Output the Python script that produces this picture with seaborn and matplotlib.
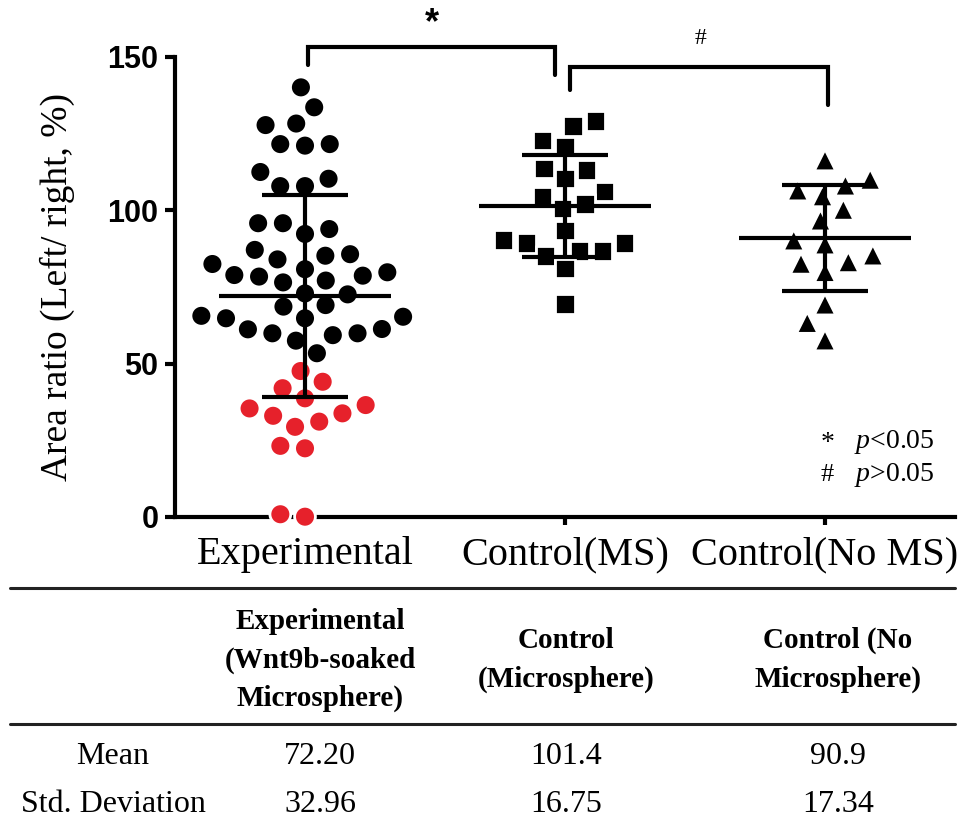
import matplotlib
matplotlib.use("Agg")
import matplotlib.pyplot as plt
from matplotlib.lines import Line2D
import numpy as np
import pandas as pd
import seaborn as sns

# ---------------- data ----------------
groups = ["Experimental", "Control(MS)", "Control(No MS)"]

experimental = [140.1, 133.6, 128.3, 127.8, 121.6, 121.1, 121.6, 112.5, 110.3,
                107.9, 107.9, 95.8, 92.3, 93.9, 95.8, 87.1, 85.2, 82.5, 80.8,
                84.0, 85.7, 78.9, 78.4, 76.5, 77.1, 78.7, 79.8, 72.6, 72.9,
                69.1, 68.6, 65.6, 64.8, 64.8, 65.3, 61.3, 59.9, 59.3, 57.5,
                59.9, 61.2, 53.4,
                47.6, 44.1, 42.0, 38.7, 36.5, 33.8, 35.4, 31.1, 33.0, 29.4,
                23.2, 22.4, 0.1, 0.9]
control_ms = [129.2, 127.5, 122.7, 120.7, 113.6, 113.1, 110.4, 106.1, 104.4,
              102.1, 100.6, 93.4, 90.3, 89.4, 89.4, 86.8, 85.1, 86.8, 81.1, 69.4]
control_no_ms = [116.4, 110.1, 108.2, 106.6, 104.7, 100.3, 96.8, 90.3, 89.0,
                 85.4, 83.2, 82.7, 80.0, 69.4, 63.4, 57.7]

highlight_below = 50  # experimental values below this are drawn red

table_headers = ["Experimental\n(Wnt9b-soaked\nMicrosphere)",
                 "Control\n(Microsphere)",
                 "Control (No\nMicrosphere)"]
row_labels = ["Mean", "Std. Deviation"]
means = [72.20, 101.4, 90.9]
sds = [32.96, 16.75, 17.34]
mean_text = ["72.20", "101.4", "90.9"]
sd_text = ["32.96", "16.75", "17.34"]

y_ticks = [0, 50, 100, 150]

# ---------------- frame ----------------
rows = []
for g, vals in zip(groups, [experimental, control_ms, control_no_ms]):
    for v in vals:
        tone = "red" if (g == groups[0] and v < highlight_below) else "black"
        rows.append({"group": g, "value": v, "tone": tone})
df = pd.DataFrame(rows)

sns.set_style("ticks")
plt.rcParams["font.family"] = ["Liberation Serif", "DejaVu Serif"]
plt.rcParams["mathtext.fontset"] = "custom"
plt.rcParams["mathtext.rm"] = "Liberation Serif"
plt.rcParams["mathtext.it"] = "Liberation Serif:italic"
for k in ["text.color", "axes.labelcolor", "xtick.color", "ytick.color",
          "axes.edgecolor"]:
    plt.rcParams[k] = "black"

W, H = 963, 825
fig = plt.figure(figsize=(W / 100, H / 100), dpi=100)
ax = fig.add_axes([175 / W, (H - 517) / H, 780 / W, 460 / H])

RED = "#e6212b"
palette = {"black": "black", "red": RED}
markers = ["o", "s", "^"]
sizes = [15, 14, 15.5]
for g, m, s in zip(groups, markers, sizes):
    sns.swarmplot(data=df[df["group"] == g], x="group", y="value", order=groups,
                  hue="tone", palette=palette, hue_order=["black", "red"],
                  marker=m, size=s, edgecolor="white", linewidth=2,
                  legend=False, clip_on=False, ax=ax, zorder=3)

# mean and SD bars
for i, (mu, sd) in enumerate(zip(means, sds)):
    ax.hlines(mu, i - 0.33, i + 0.33, color="black", lw=3, zorder=5)
    ax.hlines([mu - sd, mu + sd], i - 0.165, i + 0.165, color="black", lw=3, zorder=5)
    ax.vlines(i, mu - sd, mu + sd, color="black", lw=3, zorder=5)

ax.set_xlim(-0.5, 2.5)
ax.set_ylim(0, 150)
ax.set_yticks(y_ticks)
ax.set_xlabel("")
ax.set_ylabel("Area ratio (Left/ right, %)", fontsize=27, family="Liberation Serif")
ax.yaxis.set_label_coords(-0.128, 0.5)

for sp in ["top", "right"]:
    ax.spines[sp].set_visible(False)
for sp in ["left", "bottom"]:
    ax.spines[sp].set_linewidth(3)
    ax.spines[sp].set_color("black")
ax.tick_params(axis="y", length=7, width=3, pad=5, colors="black")
ax.tick_params(axis="x", length=6, width=3, pad=8, colors="black")
for lab in ax.get_yticklabels():
    lab.set_fontfamily("Liberation Sans")
    lab.set_fontweight("bold")
    lab.set_fontsize(22)
for lab in ax.get_xticklabels():
    lab.set_fontfamily("Liberation Serif")
    lab.set_fontsize(29)

# significance brackets
ax.plot([0.01, 0.01, 0.96, 0.96], [147.4, 153.2, 153.2, 144.1], color="black",
        lw=3, clip_on=False, solid_joinstyle="miter")
ax.plot([1.02, 1.02, 2.01, 2.01], [139.2, 146.7, 146.7, 134.3], color="black",
        lw=3, clip_on=False, solid_joinstyle="miter")
ax.text(0.49, 161.0, "*", ha="center", va="center", fontsize=26,
        family="Liberation Sans", fontweight="bold", clip_on=False)
ax.text(1.52, 156.0, "#", ha="center", va="center", fontsize=17, clip_on=False)

# p-value key
ax.text(2.008, 24.0, "*", ha="center", va="center", fontsize=20)
ax.text(2.112, 24.5, "$p$<0.05", ha="left", va="center", fontsize=20)
ax.text(2.008, 13.8, "#", ha="center", va="center", fontsize=19)
ax.text(2.112, 13.8, "$p$>0.05", ha="left", va="center", fontsize=20)

# ---------------- summary table ----------------
def fx(px):
    return px / W

def fy(py):
    return 1 - py / H

for ypx in [588, 724]:
    fig.add_artist(Line2D([fx(10), fx(955)], [fy(ypx), fy(ypx)], color="#222222",
                          lw=2.2, transform=fig.transFigure))

col_x = [320, 566, 838]
for cx, head in zip(col_x, table_headers):
    fig.text(fx(cx), fy(660), head, ha="center", va="center", fontsize=21,
             fontweight="bold", linespacing=1.55, multialignment="center")

fig.text(fx(113), fy(757), row_labels[0], ha="center", va="center", fontsize=23)
fig.text(fx(113), fy(805), row_labels[1], ha="center", va="center", fontsize=23)
for cx, mt, st in zip(col_x, mean_text, sd_text):
    fig.text(fx(cx), fy(757), mt, ha="center", va="center", fontsize=23)
    fig.text(fx(cx), fy(805), st, ha="center", va="center", fontsize=23)

fig.savefig("out.png", dpi=100)
